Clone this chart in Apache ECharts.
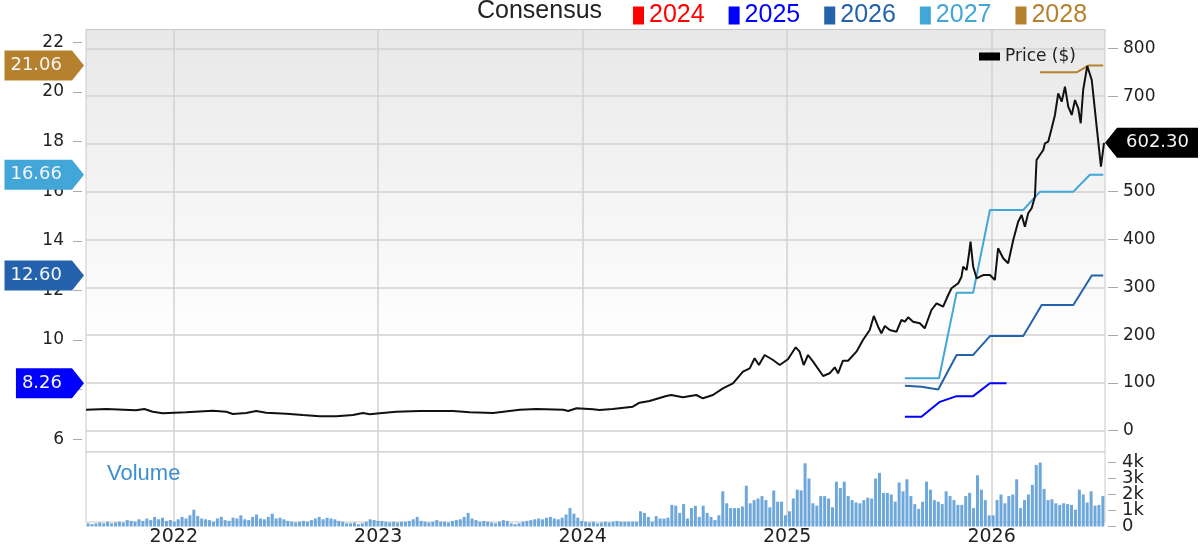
<!DOCTYPE html>
<html><head><meta charset="utf-8">
<script src="https://cdn.jsdelivr.net/npm/echarts@6/dist/echarts.min.js"></script>
<style>html,body{margin:0;padding:0;background:#fff}#c{width:1200px;height:547px}</style>
</head><body><div id="c"></div>
<script>
// ---------- data ----------
const yearTicks = [2022, 2023, 2024, 2025, 2026];
const xMin = 2021.5706, xMax = 2026.5548;
const volumeTicksA = [0, 2, 4];
const volumeTicksB = [1, 3];

const priceX = [2021.571,2021.669,2021.815,2021.856,2021.897,2021.946,2022.060,2022.191,2022.256,2022.289,2022.354,2022.403,2022.452,2022.550,2022.632,2022.713,2022.795,2022.876,2022.925,2022.958,2023.007,2023.088,2023.202,2023.366,2023.447,2023.562,2023.692,2023.774,2023.905,2023.929,2023.970,2024.051,2024.082,2024.147,2024.245,2024.278,2024.327,2024.409,2024.433,2024.490,2024.556,2024.588,2024.637,2024.686,2024.735,2024.784,2024.817,2024.841,2024.862,2024.890,2024.931,2024.964,2025.004,2025.042,2025.061,2025.081,2025.102,2025.127,2025.176,2025.208,2025.233,2025.249,2025.273,2025.298,2025.339,2025.371,2025.404,2025.424,2025.445,2025.461,2025.478,2025.502,2025.535,2025.559,2025.576,2025.592,2025.616,2025.649,2025.673,2025.706,2025.731,2025.763,2025.788,2025.804,2025.837,2025.853,2025.861,2025.878,2025.890,2025.897,2025.910,2025.927,2025.943,2025.959,2025.992,2026.016,2026.032,2026.057,2026.081,2026.106,2026.130,2026.147,2026.163,2026.179,2026.196,2026.212,2026.220,2026.236,2026.253,2026.261,2026.277,2026.285,2026.294,2026.310,2026.326,2026.343,2026.359,2026.375,2026.392,2026.408,2026.424,2026.436,2026.448,2026.468,2026.490,2026.514,2026.535,2026.550];
const priceY = [43.9,45.4,42.7,45.4,39.7,36.4,38.5,41.8,39.7,34.9,37.0,41.2,37.7,35.6,32.8,30.1,30.1,32.8,37.0,34.3,36.4,39.7,41.2,41.2,38.5,37.0,43.9,45.4,43.9,41.2,46.9,44.8,43.3,45.4,50.2,58.6,62.1,72.6,74.7,69.9,74.7,67.8,74.7,88.7,99.2,123.4,130.5,151.5,137.4,158.4,147.9,137.4,149.4,174.5,165.3,137.4,158.4,144.4,114.4,120.1,132.6,120.1,146.4,146.4,165.3,189.7,210.7,240.0,217.6,203.8,219.0,210.7,207.1,231.6,228.0,237.2,228.0,224.7,214.2,252.5,266.5,259.4,283.9,297.9,308.4,322.2,343.1,336.2,371.1,395.4,343.1,318.8,322.2,325.7,325.7,315.3,381.6,360.7,350.2,399.0,437.2,451.3,426.8,454.8,465.3,489.5,566.3,576.8,587.2,601.3,604.6,608.2,632.6,660.5,705.9,688.3,719.7,677.8,660.5,691.8,674.5,643.1,712.8,763.0,733.7,636.0,552.3,602.3];
const lastPriceLabel = '602.30';

const c2024X = [], c2024Y = [];
const c2025X = [2025.576,2025.657,2025.747,2025.829,2025.910,2025.992,2026.073];
const c2025Y = [6.91,6.91,7.51,7.74,7.74,8.26,8.26];
const c2026X = [2025.576,2025.657,2025.739,2025.829,2025.910,2025.992,2026.155,2026.245,2026.400,2026.490,2026.546];
const c2026Y = [8.16,8.12,8.01,9.40,9.40,10.16,10.16,11.41,11.41,12.60,12.60];
const c2027X = [2025.576,2025.743,2025.829,2025.910,2025.992,2026.155,2026.237,2026.400,2026.481,2026.546];
const c2027Y = [8.46,8.46,11.91,11.91,15.24,15.24,15.98,15.98,16.66,16.66];
const c2028X = [2026.237,2026.416,2026.473,2026.546];
const c2028Y = [20.79,20.79,21.06,21.06];
const consensusLabels = ['8.26','12.60','16.66','21.06'];
const consensusValues = [8.26,12.60,16.66,21.06];

// weekly volume (thousands), first week and weekly step
const volumeStart = 2021.5806;
const volumeStep = 7/365.25;
const volumeK = [
0.2,0.15,0.2,0.25,0.2,0.3,0.2,0.25,
0.3,0.25,0.4,0.35,0.3,0.45,0.35,0.5,0.4,0.6,0.45,0.55,0.35,
0.4,0.3,0.45,0.6,0.5,0.7,1.05,0.65,0.5,0.45,
0.4,0.3,0.5,0.6,0.4,0.35,0.55,0.5,0.7,0.45,0.4,0.6,0.75,0.5,0.45,
0.6,0.8,0.5,0.55,0.45,0.35,0.3,0.25,0.3,0.35,0.3,0.4,0.5,0.6,0.45,
0.55,0.5,0.45,0.35,0.3,0.2,0.2,0.25,0.15,0.2,0.3,0.45,0.4,0.35,
0.35,0.3,0.25,0.3,0.25,0.3,0.3,0.35,0.45,0.6,0.35,0.3,0.25,0.3,0.4,0.3,
0.3,0.25,0.35,0.4,0.45,0.6,0.85,0.5,0.4,0.3,0.35,0.3,0.25,0.2,0.3,
0.4,0.35,0.2,0.15,0.2,0.3,0.35,0.4,0.45,0.5,0.45,0.55,0.6,0.5,0.45,
0.55,0.75,1.15,0.8,0.55,0.35,0.3,0.25,0.3,0.2,0.25,0.3,0.25,0.3,0.35,
0.3,0.3,0.3,0.3,0.3,
0.95,0.85,0.6,0.3,0.65,0.5,0.5,0.55,
1.35,1.3,0.85,1.4,0.5,1.15,1.3,0.6,1.3,0.85,0.6,0.4,
0.7,2.2,1.45,1.15,1.15,1.15,1.25,2.55,1.45,1.65,1.75,1.9,1.65,1.2,
2.25,1.55,1.55,0.7,0.95,1.75,2.3,2.25,3.95,3.0,1.45,1.3,1.9,1.9,1.75,
1.2,2.8,2.4,2.8,1.9,1.65,1.5,1.45,1.65,1.8,1.75,3.0,3.35,2.1,2.1,2.0,1.55,
2.75,2.2,2.95,1.9,1.4,1.1,1.55,2.8,2.3,1.65,1.55,1.4,2.2,1.9,1.65,1.35,1.35,1.9,2.1,1.15,
3.2,2.3,1.65,0.7,0.7,1.65,2.0,1.45,1.9,2.0,2.95,1.15,1.65,2.0,2.6,3.85,4.25,2.35,
1.65,1.7,1.45,1.35,1.45,1.4,1.35,1.05,2.3,2.0,1.5,2.2,1.3,1.35,1.9
];

// ---------- styles ----------
const FONT = 'DejaVu Sans';
const colors = {c2024:'#ff0000', c2025:'#0000ff', c2026:'#2462ad', c2027:'#42a6d8', c2028:'#b5812f'};
const markerColors = [colors.c2025, colors.c2026, colors.c2027, colors.c2028];
const zip = (xs, ys) => xs.map((x, i) => [x, ys[i]]);

const measureCanvas = document.createElement('canvas').getContext('2d');
function textW(t, font){ measureCanvas.font = font; return measureCanvas.measureText(t).width; }

const gridL = 86, gridR = 95;
const chart = echarts.init(document.getElementById('c'), null, {renderer:'canvas'});

const hiddenX = (gi) => ({type:'value', gridIndex:gi, min:xMin, max:xMax, show:false});
const yearFmt = v => String(Math.round(v));
const lbl = (extra) => Object.assign({fontFamily:FONT, fontSize:17, color:'#222', hideOverlap:false, showMinLabel:true, showMaxLabel:true}, extra);
const volFmt = v => v === 0 ? '0' : v + 'k';
const volAxis = (ticks) => ({type:'value', gridIndex:4, position:'right', min:0, max:4, offset:3,
  axisLine:{show:false},
  axisTick:{show:true, length:8, customValues:ticks, lineStyle:{color:'#aaaaaa'}},
  axisLabel:lbl({fontSize:18, margin:14, customValues:ticks, formatter:volFmt}),
  splitLine:{show:false}});

chart.setOption({
  animation:false,
  backgroundColor:'#ffffff',
  grid:[
    {left:gridL, right:gridR, top:29.5, height:422.5, show:true,
     backgroundColor:{type:'linear',x:0,y:0,x2:0,y2:1,colorStops:[{offset:0,color:'#e8e8e8'},{offset:0.45,color:'#f6f6f6'},{offset:0.75,color:'#ffffff'},{offset:1,color:'#ffffff'}]},
     borderColor:'#c9c9c9', borderWidth:1},
    {left:gridL, right:gridR, top:452, height:75, show:true, backgroundColor:'#ffffff', borderColor:'#c9c9c9', borderWidth:1},
    {left:gridL, right:gridR, top:48.3, height:382.4},
    {left:gridL, right:gridR, top:42.3, height:397},
    {left:gridL, right:gridR, top:462.5, height:64}
  ],
  xAxis:[
    {type:'value', gridIndex:0, min:xMin, max:xMax,
     axisLine:{show:false}, axisTick:{show:false, customValues:yearTicks}, axisLabel:{show:false, customValues:yearTicks},
     splitLine:{show:true, lineStyle:{color:'#d2d2d2', width:1.5}}},
    {type:'value', gridIndex:1, min:xMin, max:xMax,
     axisLine:{show:false}, axisTick:{show:false, customValues:yearTicks},
     axisLabel:{show:true, customValues:yearTicks, formatter:yearFmt, fontFamily:FONT, fontSize:19, color:'#222', margin:6},
     splitLine:{show:true, lineStyle:{color:'#d2d2d2', width:1.5}}},
    hiddenX(2), hiddenX(3), hiddenX(4)
  ],
  yAxis:[
    {type:'value', gridIndex:0, min:0, max:1, show:false},
    {type:'value', gridIndex:1, min:0, max:1, show:false},
    {type:'value', gridIndex:2, position:'right', min:0, max:800, interval:100, offset:3,
     axisLine:{show:false}, axisTick:{show:true, length:10, lineStyle:{color:'#aaaaaa'}},
     axisLabel:lbl({margin:15}),
     splitLine:{show:true, lineStyle:{color:'#d2d2d2', width:1.5}}},
    {type:'value', gridIndex:3, position:'left', min:6, max:22, interval:2, offset:4,
     axisLine:{show:false}, axisTick:{show:true, length:9, lineStyle:{color:'#aaaaaa'}},
     axisLabel:lbl({margin:18}),
     splitLine:{show:false}},
    volAxis(volumeTicksA),
    volAxis(volumeTicksB)
  ],
  legend:[
    {left:628, top:-2, icon:'rect', itemWidth:11, itemHeight:18, itemGap:24, selectedMode:false,
     textStyle:{fontFamily:'Liberation Sans', fontSize:25},
     data:[
       {name:'2024', textStyle:{color:colors.c2024}},
       {name:'2025', textStyle:{color:colors.c2025}},
       {name:'2026', textStyle:{color:colors.c2026}},
       {name:'2027', textStyle:{color:colors.c2027}},
       {name:'2028', textStyle:{color:colors.c2028}}
     ]},
    {left:974, top:43, icon:'rect', itemWidth:21, itemHeight:8, selectedMode:false,
     textStyle:{fontFamily:FONT, fontSize:17, color:'#222'}, data:['Price ($)']}
  ],
  graphic:[
    {type:'text', left:477, top:-1, z:10, style:{text:'Consensus', font:'25px Liberation Sans', fill:'#222'}},
    {type:'text', left:107, top:463, z:10, style:{text:'Volume', font:'22px Liberation Sans', fill:'#3d8fd0'}}
  ],
  series:[
    {name:'Volume', type:'bar', xAxisIndex:4, yAxisIndex:4, barWidth:3, itemStyle:{color:'#6ea7da'},
     data: volumeK.map((v, i) => [volumeStart + i*volumeStep, v])},
    {name:'Price ($)', type:'line', xAxisIndex:2, yAxisIndex:2, symbol:'none', z:5,
     color:'#000', lineStyle:{color:'#111', width:2}, data:zip(priceX, priceY)},
    {name:'2024', type:'line', xAxisIndex:3, yAxisIndex:3, symbol:'none', color:colors.c2024, data:zip(c2024X, c2024Y)},
    {name:'2025', type:'line', xAxisIndex:3, yAxisIndex:3, symbol:'none', color:colors.c2025, lineStyle:{width:2}, data:zip(c2025X, c2025Y)},
    {name:'2026', type:'line', xAxisIndex:3, yAxisIndex:3, symbol:'none', color:colors.c2026, lineStyle:{width:2}, data:zip(c2026X, c2026Y)},
    {name:'2027', type:'line', xAxisIndex:3, yAxisIndex:3, symbol:'none', color:colors.c2027, lineStyle:{width:2}, data:zip(c2027X, c2027Y)},
    {name:'2028', type:'line', xAxisIndex:3, yAxisIndex:3, symbol:'none', color:colors.c2028, lineStyle:{width:2}, data:zip(c2028X, c2028Y)},
    {name:'consensusMarkers', type:'custom', xAxisIndex:3, yAxisIndex:3, clip:false, z:10,
     data: consensusValues.map(v => [xMin, v]),
     renderItem:(params, api) => {
       const y = api.coord([api.value(0), api.value(1)])[1];
       const i = params.dataIndex;
       const label = consensusLabels[i];
       const font = '18px ' + FONT;
       const tw = textW(label, font);
       const tip = 84, body = 72, h = 15, textRight = 62;
       const left = textRight - tw - 6;
       return {type:'group', children:[
         {type:'polygon', shape:{points:[[left,y-h],[body,y-h],[tip,y],[body,y+h],[left,y+h]]}, style:{fill:markerColors[i]}},
         {type:'text', style:{text:label, x:textRight, y:y, fill:'#f5f5f5', font:font, align:'right', verticalAlign:'middle'}}
       ]};
     }},
    {name:'priceMarker', type:'custom', xAxisIndex:2, yAxisIndex:2, clip:false, z:10,
     data:[[priceX[priceX.length-1], priceY[priceY.length-1]]],
     renderItem:(params, api) => {
       const y = api.coord([api.value(0), api.value(1)])[1];
       const tip = 1105, body = 1117, right = 1198, h = 15;
       return {type:'group', children:[
         {type:'polygon', shape:{points:[[tip,y],[body,y-h],[right,y-h],[right,y+h],[body,y+h]]}, style:{fill:'#000'}},
         {type:'text', style:{text:lastPriceLabel, x:(body+right)/2, y:y, fill:'#f5f5f5', font:'18px ' + FONT, align:'center', verticalAlign:'middle'}}
       ]};
     }}
  ]
});
</script>
</body></html>
